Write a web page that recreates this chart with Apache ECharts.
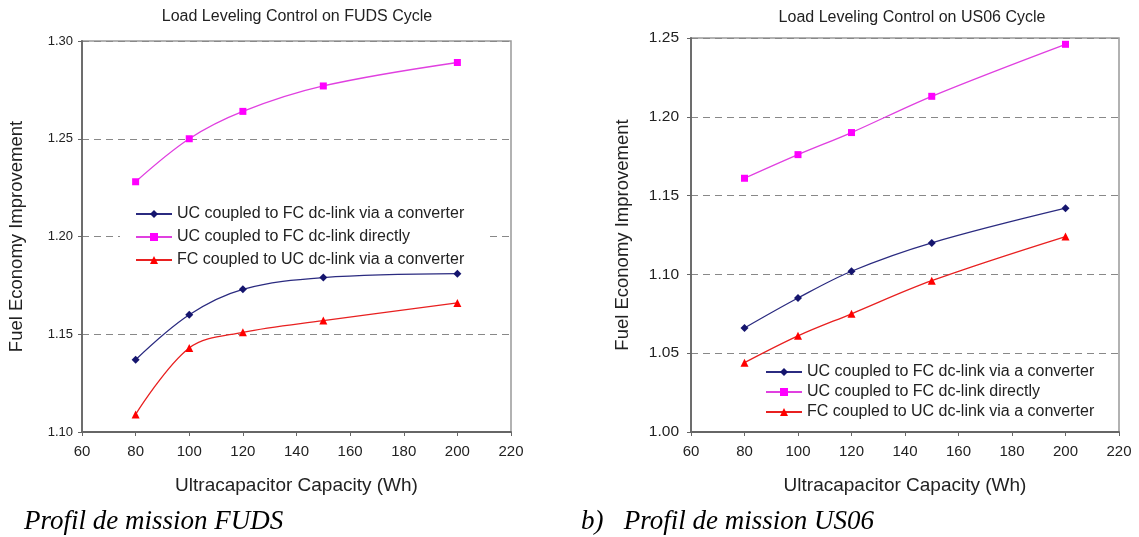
<!DOCTYPE html>
<html>
<head>
<meta charset="utf-8">
<script src="https://cdn.jsdelivr.net/npm/echarts@6/dist/echarts.min.js"></script>
<style>
html,body{margin:0;padding:0;background:#fff;}
#c{width:1139px;height:537px;}
</style>
</head>
<body>
<div id="c"></div>
<script>
// ---- data ----
const capacity = [80, 100, 120, 150, 200];
const seriesNames = [
  'UC coupled to FC dc-link via a converter',
  'UC coupled to FC dc-link directly',
  'FC coupled to UC dc-link via a converter'
];
// FUDS cycle
const fudsConv   = [1.137, 1.160, 1.173, 1.179, 1.181];
const fudsDirect = [1.228, 1.250, 1.264, 1.277, 1.289];
const fudsFC     = [1.109, 1.143, 1.151, 1.157, 1.166];
// US06 cycle
const us06Conv   = [1.066, 1.085, 1.102, 1.120, 1.142];
const us06Direct = [1.161, 1.176, 1.190, 1.213, 1.246];
const us06FC     = [1.044, 1.061, 1.075, 1.096, 1.124];

const titles = ['Load Leveling Control on FUDS Cycle', 'Load Leveling Control on US06 Cycle'];
const captions = ['Profil de mission FUDS', 'b)   Profil de mission US06'];
const xName = 'Ultracapacitor Capacity (Wh)';
const yName = 'Fuel Economy Improvement';

const colors = ['#15156e', '#ff00ff', '#ff0000'];
const lineColors = ['#2b2b80', '#e040e0', '#e82020'];
const symbols = ['diamond', 'rect', 'triangle'];
const symbolSizes = [8, 7, 8];

const font = 'Liberation Sans, Arial, sans-serif';
const serif = 'Liberation Serif, DejaVu Serif, serif';

function pairs(vals){ return capacity.map((x,i)=>[x, vals[i]]); }

function mkSeries(idx, data, gi){
  return {
    name: seriesNames[idx], type: 'line', xAxisIndex: gi, yAxisIndex: gi,
    data: pairs(data), smooth: 0.35,
    symbol: symbols[idx], symbolSize: symbolSizes[idx],
    itemStyle: {color: colors[idx]},
    lineStyle: {color: lineColors[idx], width: 1.3},
    z: 3
  };
}

const chart = echarts.init(document.getElementById('c'), null, {renderer:'canvas'});

function xAxis(gi){
  return {
    gridIndex: gi, type: 'value', min: 60, max: 220, interval: 20,
    name: xName, nameLocation: 'middle', nameGap: 44,
    nameTextStyle: {fontFamily: font, fontSize: 19, color: '#222'},
    axisLine: {show: true, lineStyle: {color: '#666', width: 1.8}},
    axisTick: {show: true, length: 4, lineStyle: {color: '#666'}},
    axisLabel: {fontFamily: font, fontSize: 15, color: '#222', margin: 12},
    splitLine: {show: false}
  };
}
function yAxis(gi, min, max){
  return {
    gridIndex: gi, type: 'value', min: min, max: max, interval: 0.05,
    name: yName, nameLocation: 'middle', nameGap: gi===0 ? 56 : 59,
    nameTextStyle: {fontFamily: font, fontSize: 18.5, color: '#222'},
    axisLine: {show: true, lineStyle: {color: '#666', width: 1.8}},
    axisTick: {show: true, length: 4, lineStyle: {color: '#666'}},
    axisLabel: {fontFamily: font, fontSize: gi===0 ? 13 : 15.5, color: '#222', margin: gi===0 ? 9 : 12,
      formatter: v => v.toFixed(2)},
    splitLine: {show: true, lineStyle: {color: '#888', type: [7,5], width: 1}}
  };
}

chart.setOption({
  backgroundColor: '#fff',
  animation: false,
  title: [
    {text: titles[0], left: 292, top: 4, textAlign: 'center',
     textStyle: {fontFamily: font, fontSize: 16, fontWeight: 'normal', color: '#222'}},
    {text: titles[1], left: 907, top: 5, textAlign: 'center',
     textStyle: {fontFamily: font, fontSize: 16, fontWeight: 'normal', color: '#222'}},
    {text: captions[0], left: 19, top: 503,
     textStyle: {fontFamily: serif, fontStyle: 'italic', fontSize: 27, fontWeight: 'normal', color: '#000'}},
    {text: captions[1], left: 576, top: 503,
     textStyle: {fontFamily: serif, fontStyle: 'italic', fontSize: 27, fontWeight: 'normal', color: '#000'}}
  ],
  grid: [
    {left: 82, top: 41, width: 429, height: 391, show: true, borderColor: '#999', borderWidth: 1.5, backgroundColor: 'transparent'},
    {left: 691, top: 38, width: 428, height: 394, show: true, borderColor: '#999', borderWidth: 1.5, backgroundColor: 'transparent'}
  ],
  xAxis: [xAxis(0), xAxis(1)],
  yAxis: [yAxis(0, 1.10, 1.30), yAxis(1, 1.00, 1.25)],
  legend: [
    {orient: 'vertical', left: 120, top: 203, itemWidth: 36, itemHeight: 10, itemGap: 7,
     backgroundColor: '#fff', padding: [3, 22, 0, 15],
     textStyle: {fontFamily: font, fontSize: 16, color: '#222'},
     data: seriesNames, selectedMode: false},
    {orient: 'vertical', left: 752, top: 360, itemWidth: 36, itemHeight: 10, itemGap: 4,
     backgroundColor: '#fff', padding: [4, 10, 4, 13],
     textStyle: {fontFamily: font, fontSize: 16, color: '#222'},
     data: seriesNames, selectedMode: false}
  ],
  series: [
    mkSeries(0, fudsConv, 0), mkSeries(1, fudsDirect, 0), mkSeries(2, fudsFC, 0),
    mkSeries(0, us06Conv, 1), mkSeries(1, us06Direct, 1), mkSeries(2, us06FC, 1)
  ]
});
</script>
</body>
</html>
